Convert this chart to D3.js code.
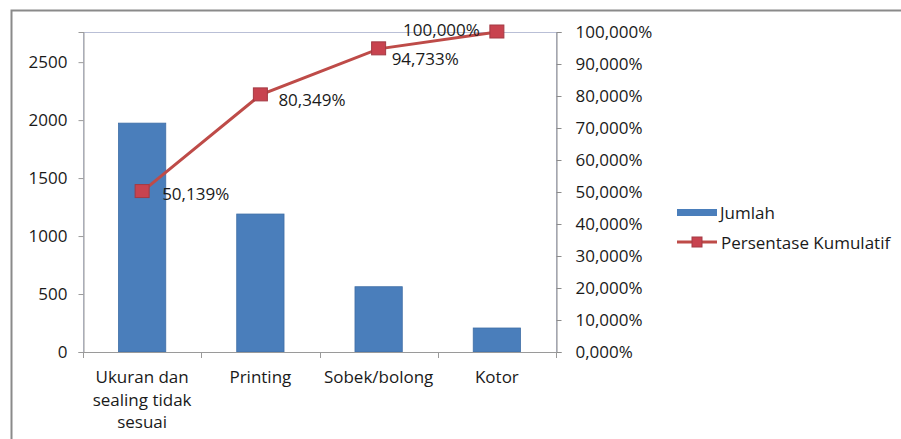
<!DOCTYPE html>
<html>
<head>
<meta charset="utf-8">
<script src="https://cdn.jsdelivr.net/npm/d3@7"></script>
<style>
  html, body { margin: 0; padding: 0; background: #fff; }
  svg { display: block; }
  text { font-family: "Open Sans", "Noto Sans", sans-serif; fill: #1a1a1a; }
</style>
</head>
<body>
<svg id="chart" width="901" height="439"></svg>
<script>
// ---- data ----
const categories = ["Ukuran dan sealing tidak sesuai", "Printing", "Sobek/bolong", "Kotor"];
const categoryLines = [["Ukuran dan", "sealing tidak", "sesuai"], ["Printing"], ["Sobek/bolong"], ["Kotor"]];
const jumlah = [1974, 1190, 563, 207];
const kumulatif = [50.139, 80.349, 94.733, 100.000];
const leftTicks = [0, 500, 1000, 1500, 2000, 2500];
const rightTicks = [0, 10, 20, 30, 40, 50, 60, 70, 80, 90, 100];
const seriesNames = ["Jumlah", "Persentase Kumulatif"];

// ---- styling / layout ----
const labelOffsets = [[20, 1.5, "start"], [18, 5, "start"], [13, 10, "start"], [-17, -3, "end"]];
const plot = { left: 83, right: 556, top: 32, bottom: 352 };
const barColor = "#4A7EBB", lineColor = "#BE4B48", markerFill = "#C8434F", markerStroke = "#A33A44";
const fontSize = 17;

const svg = d3.select("#chart");
svg.append("rect").attr("width", 901).attr("height", 439).attr("fill", "#fff");
// outer chart border (only top/left visible)
svg.append("rect").attr("x", 11.5).attr("y", 10.5).attr("width", 920).attr("height", 460)
  .attr("fill", "none").attr("stroke", "#8a8a8a").attr("stroke-width", 2);

const x = d3.scaleBand().domain(categories).range([plot.left, plot.right]).padding(0);
const yL = d3.scaleLinear().domain([0, 2760]).range([plot.bottom, plot.top]);
const yR = d3.scaleLinear().domain([0, 100]).range([plot.bottom, plot.top]);

// plot area border
svg.append("rect").attr("x", plot.left + 0.5).attr("y", plot.top + 0.5)
  .attr("width", plot.right - plot.left).attr("height", plot.bottom - plot.top)
  .attr("fill", "none").attr("stroke", "#b9bfd6").attr("stroke-width", 1);

// bars
const barFrac = 0.4;
svg.append("g").selectAll("rect").data(jumlah).join("rect")
  .attr("x", (d, i) => x(categories[i]) + x.bandwidth() * (1 - barFrac) / 2)
  .attr("width", x.bandwidth() * barFrac)
  .attr("y", d => yL(d))
  .attr("height", d => yL(0) - yL(d))
  .attr("fill", barColor).attr("stroke", "#3f6ea6").attr("stroke-width", 0.8);

// left axis
const gL = svg.append("g").attr("transform", `translate(${plot.left + 0.5},0)`)
  .call(d3.axisLeft(yL).tickValues(leftTicks).tickSize(5).tickPadding(11).tickFormat(d3.format("d")));
gL.select(".domain").attr("stroke", "#9a9a9a");
gL.selectAll(".tick line").attr("stroke", "#9a9a9a");
gL.selectAll("text").style("font-size", fontSize + "px").attr("fill", "#1a1a1a")
  .attr("font-family", "'Open Sans', sans-serif");

// right axis
const fmtPct = v => d3.format(".3f")(v).replace(".", ",") + "%";
const gR = svg.append("g").attr("transform", `translate(${plot.right + 0.5},0)`)
  .call(d3.axisRight(yR).tickValues(rightTicks).tickSize(5).tickPadding(14).tickFormat(fmtPct));
gR.select(".domain").attr("stroke", "#8c8c8c");
gR.selectAll(".tick line").attr("stroke", "#8c8c8c");
gR.selectAll("text").style("font-size", fontSize + "px").attr("fill", "#1a1a1a")
  .attr("font-family", "'Open Sans', sans-serif");

// x axis
const gX = svg.append("g");
gX.append("line").attr("x1", plot.left).attr("x2", plot.right)
  .attr("y1", plot.bottom + 0.5).attr("y2", plot.bottom + 0.5).attr("stroke", "#9a9a9a");
const boundaries = categories.map(c => x(c)).concat([x(categories[categories.length - 1]) + x.bandwidth()]);
gX.selectAll("line.tk").data(boundaries).join("line").attr("class", "tk")
  .attr("x1", d => Math.round(d) + 0.5).attr("x2", d => Math.round(d) + 0.5)
  .attr("y1", plot.bottom).attr("y2", plot.bottom + 6).attr("stroke", "#9a9a9a");
categoryLines.forEach((lines, i) => {
  const cx = x(categories[i]) + x.bandwidth() / 2;
  const t = gX.append("text").attr("text-anchor", "middle").style("font-size", fontSize + "px");
  lines.forEach((ln, j) => {
    t.append("tspan").attr("x", cx).attr("y", plot.bottom + 31 + j * 22.5).text(ln);
  });
});

// cumulative line
const px = i => x(categories[i]) + x.bandwidth() / 2;
const line = d3.line().x((d, i) => px(i)).y(d => yR(d));
svg.append("path").datum(kumulatif).attr("d", line)
  .attr("fill", "none").attr("stroke", lineColor).attr("stroke-width", 3);
const ms = 14;
svg.append("g").selectAll("rect").data(kumulatif).join("rect")
  .attr("x", (d, i) => px(i) - ms / 2).attr("y", d => yR(d) - ms / 2)
  .attr("width", ms).attr("height", ms - 1)
  .attr("fill", markerFill).attr("stroke", markerStroke).attr("stroke-width", 1);
// data labels
svg.append("g").selectAll("text").data(kumulatif).join("text")
  .attr("x", (d, i) => px(i) + labelOffsets[i][0])
  .attr("y", (d, i) => yR(d) + labelOffsets[i][1])
  .attr("dominant-baseline", "central")
  .attr("text-anchor", (d, i) => labelOffsets[i][2])
  .style("font-size", fontSize + "px")
  .text(d => fmtPct(d));

// legend
const lg = svg.append("g");
lg.append("rect").attr("x", 677).attr("y", 209).attr("width", 40).attr("height", 7).attr("fill", barColor);
lg.append("text").attr("x", 720).attr("y", 212.5).attr("dominant-baseline", "central")
  .style("font-size", fontSize + "px").text(seriesNames[0]);
lg.append("line").attr("x1", 677).attr("x2", 717).attr("y1", 242).attr("y2", 242)
  .attr("stroke", lineColor).attr("stroke-width", 3);
lg.append("rect").attr("x", 692).attr("y", 237).attr("width", 10).attr("height", 10)
  .attr("fill", markerFill).attr("stroke", markerStroke);
lg.append("text").attr("x", 721).attr("y", 242.5).attr("dominant-baseline", "central")
  .style("font-size", fontSize + "px").text(seriesNames[1]);
</script>
</body>
</html>
